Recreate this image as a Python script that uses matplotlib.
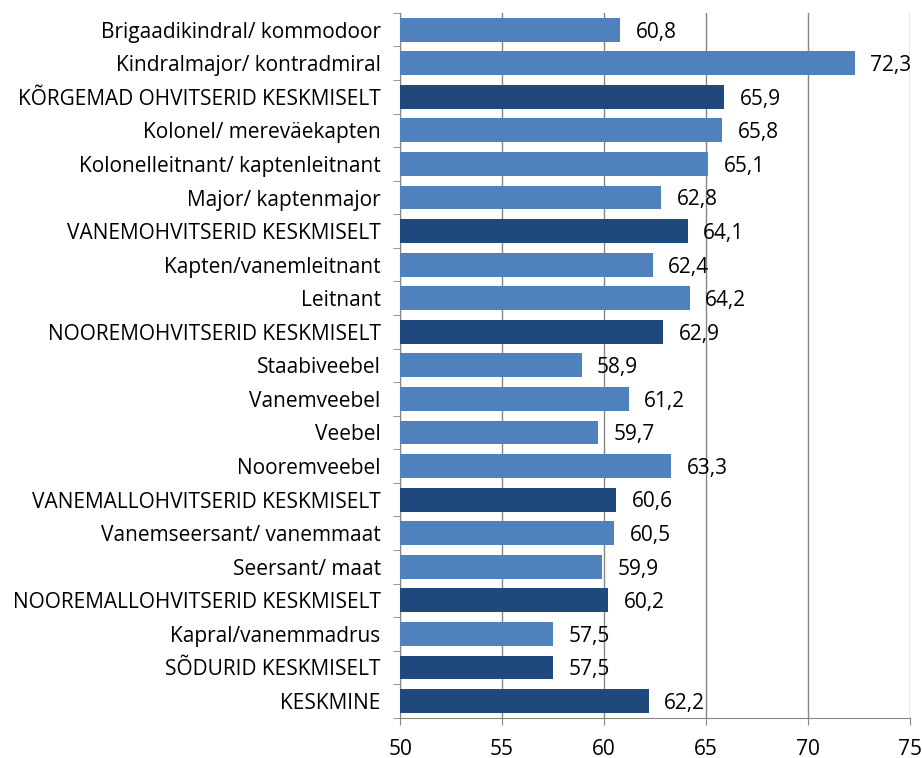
import matplotlib
matplotlib.use('Agg')
import matplotlib.pyplot as plt
import numpy as np

# data, top to bottom
categories = ['Brigaadikindral/ kommodoor', 'Kindralmajor/ kontradmiral',
              'KÕRGEMAD OHVITSERID KESKMISELT', 'Kolonel/ mereväekapten',
              'Kolonelleitnant/ kaptenleitnant', 'Major/ kaptenmajor',
              'VANEMOHVITSERID KESKMISELT', 'Kapten/vanemleitnant', 'Leitnant',
              'NOOREMOHVITSERID KESKMISELT', 'Staabiveebel', 'Vanemveebel',
              'Veebel', 'Nooremveebel', 'VANEMALLOHVITSERID KESKMISELT',
              'Vanemseersant/ vanemmaat', 'Seersant/ maat',
              'NOOREMALLOHVITSERID KESKMISELT', 'Kapral/vanemmadrus',
              'SÕDURID KESKMISELT', 'KESKMINE']
values = [60.8, 72.3, 65.9, 65.8, 65.1, 62.8, 64.1, 62.4, 64.2, 62.9, 58.9,
          61.2, 59.7, 63.3, 60.6, 60.5, 59.9, 60.2, 57.5, 57.5, 62.2]
is_average = [0, 0, 1, 0, 0, 0, 1, 0, 0, 1, 0, 0, 0, 0, 1, 0, 0, 1, 0, 1, 1]

light = '#4F81BD'
dark = '#1F497D'

plt.rcParams['font.family'] = ['Open Sans', 'DejaVu Sans']

fig = plt.figure(figsize=(9.22, 7.58), dpi=100)
ax = fig.add_axes([0.434, 0.053, 0.553, 0.930])

y = np.arange(len(categories))
colors = [dark if a else light for a in is_average]
ax.barh(y, [v - 50 for v in values], left=50, height=0.71, color=colors, zorder=3)

# value labels
for yi, v in zip(y, values):
    ax.text(v + 0.75, yi + 0.07, '{:.1f}'.format(v).replace('.', ','),
            va='center', ha='left', fontsize=15, zorder=4)

ax.set_xlim(50, 75)
ax.set_ylim(len(categories) - 0.5, -0.5)
ax.set_xticks(np.arange(50, 76, 5))
ax.set_yticks(y)
ax.set_yticklabels(categories, fontsize=15)
ax.set_yticks(np.arange(-0.5, len(categories), 1), minor=True)
ax.tick_params(axis='y', which='major', length=0, pad=14)
ax.tick_params(axis='y', which='minor', length=5, color='#868686', direction='out')
ax.tick_params(axis='x', labelsize=15, length=5, color='#868686', direction='out', pad=10)

ax.grid(axis='x', color='#868686', linewidth=1, zorder=0)
for s in ['top', 'right']:
    ax.spines[s].set_visible(False)
for s in ['left', 'bottom']:
    ax.spines[s].set_color('#868686')

fig.savefig('out.png', dpi=100)
